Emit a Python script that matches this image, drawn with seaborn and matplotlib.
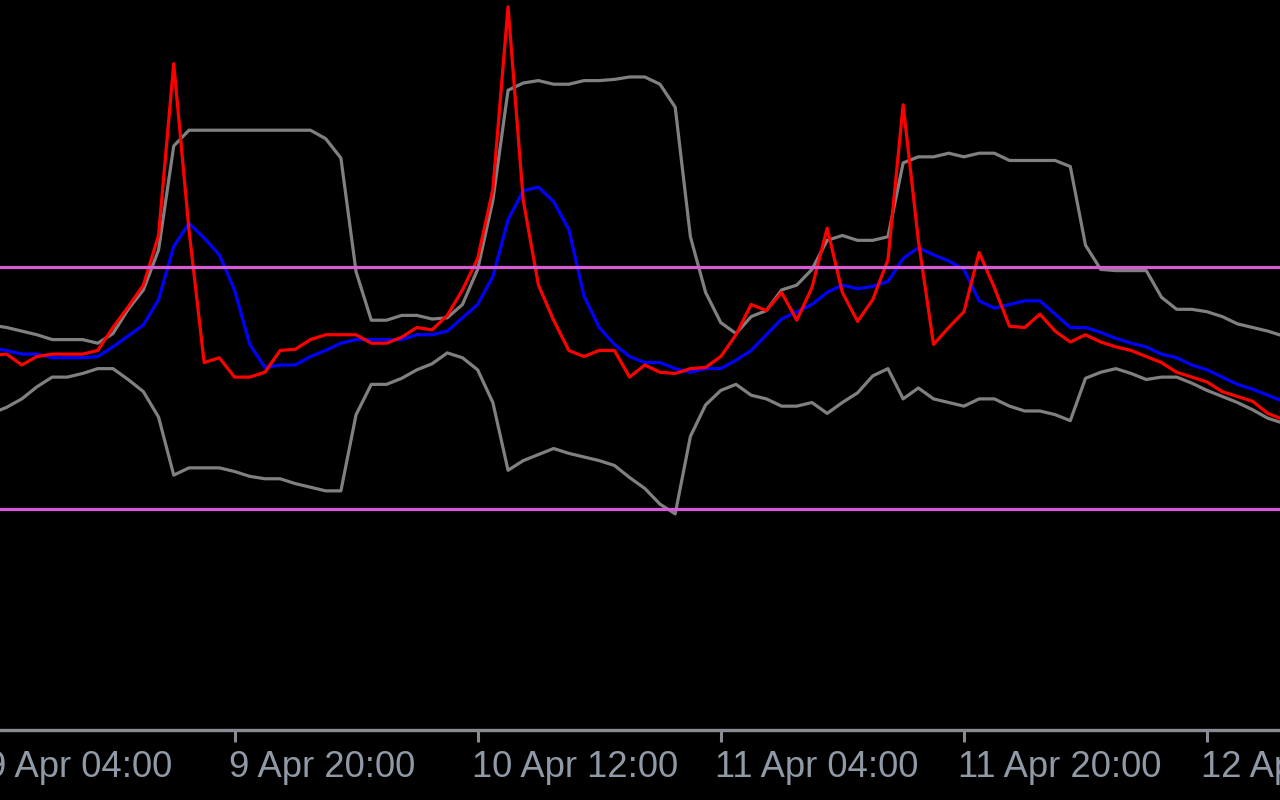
import matplotlib
matplotlib.use("Agg")
import matplotlib.pyplot as plt
import matplotlib.dates as mdates
import pandas as pd
import seaborn as sns

# hourly bars, 9 Apr 04:00 onwards
start = "2024-04-09 04:00"

main_line = [27, 28, 19, 26, 28, 28, 28, 31, 50, 67,
             85, 126, 268, 131, 21, 25, 9, 9, 13, 31,
             32, 40, 44, 44, 44, 37, 37, 42, 50, 48,
             60, 81, 107, 164, 315, 155, 85, 56, 31, 26,
             31, 31, 9, 19, 13, 12, 16, 17, 26, 44,
             69, 64, 79, 56, 83, 132, 79, 55, 73, 106,
             234, 122, 36, 50, 63, 112, 83, 51, 50, 61,
             47, 38, 44, 38, 34, 31, 26, 21, 13, 9,
             5, -3, -7, -11, -21, -26]

signal_line = [33, 31, 28, 28, 25, 25, 25, 26, 34, 43,
               52, 73, 117, 136, 124, 110, 81, 36, 17, 19,
               19, 26, 31, 37, 40, 40, 40, 40, 44, 44,
               47, 58, 69, 92, 139, 163, 166, 154, 131, 76,
               50, 36, 26, 21, 21, 16, 13, 16, 16, 23,
               31, 44, 57, 63, 69, 79, 85, 82, 84, 88,
               107, 116, 110, 105, 98, 72, 66, 69, 72, 72,
               61, 50, 50, 46, 41, 37, 34, 28, 25, 19,
               15, 9, 3, -1, -6, -11]

upper_band = [52, 50, 47, 44, 40, 40, 40, 37, 45, 65,
              81, 114, 200, 213, 213, 213, 213, 213, 213, 213,
              213, 213, 206, 190, 96, 56, 56, 60, 60, 57,
              58, 69, 98, 155, 246, 252, 254, 251, 251, 254,
              254, 255, 257, 257, 251, 232, 125, 79, 54, 45,
              59, 64, 81, 85, 98, 122, 126, 122, 122, 125,
              186, 191, 191, 194, 191, 194, 194, 188, 188, 188,
              188, 183, 118, 98, 97, 97, 97, 75, 65, 65,
              63, 59, 53, 50, 47, 43]

lower_band = [-21, -16, -9, 1, 9, 9, 12, 16, 16, 7,
              -3, -24, -72, -66, -66, -66, -69, -73, -75, -75,
              -79, -82, -85, -85, -22, 3, 3, 8, 15, 20,
              29, 25, 15, -12, -68, -60, -55, -50, -54, -57,
              -60, -64, -74, -83, -96, -104, -40, -14, -2, 3,
              -6, -9, -15, -15, -12, -21, -12, -4, 10, 16,
              -9, 0, -9, -12, -15, -9, -9, -15, -19, -19,
              -22, -27, 8, 13, 16, 12, 7, 9, 9, 4,
              -2, -7, -12, -18, -25, -29]

levels = [100, -100]

tick_times = ["2024-04-09 04:00", "2024-04-09 20:00", "2024-04-10 12:00",
              "2024-04-11 04:00", "2024-04-11 20:00", "2024-04-12 12:00"]
tick_labels = ["9 Apr 04:00", "9 Apr 20:00", "10 Apr 12:00",
               "11 Apr 04:00", "11 Apr 20:00", "12 Apr 12:00"]

times = pd.date_range(start, periods=len(main_line), freq="h")
df = pd.DataFrame({"time": times, "main": main_line, "signal": signal_line,
                   "upper": upper_band, "lower": lower_band})

sns.set_style("dark", {"axes.facecolor": "black", "figure.facecolor": "black"})
plt.rcParams["font.family"] = ["Liberation Sans", "DejaVu Sans"]

fig = plt.figure(figsize=(12.8, 8), dpi=100)
ax = fig.add_axes([0, 0.0875, 1, 0.9125])

# bands first, then signal and main, levels on top
for col, color in [("upper", "#808080"), ("lower", "#808080"),
                   ("signal", "#0000ff"), ("main", "#ff0000")]:
    sns.lineplot(data=df, x="time", y=col, ax=ax, color=color, lw=2.3)
for lv in levels:
    ax.axhline(lv, color="#d65ad6", lw=2.3, zorder=3)

ax.set_xlim(pd.Timestamp("2024-04-09 04:34"), pd.Timestamp("2024-04-12 16:48"))
ax.set_ylim(-282.6, 320.6)
ax.set_xlabel("")
ax.set_ylabel("")
ax.grid(False)
ax.set_yticks([])

for side in ["top", "left", "right"]:
    ax.spines[side].set_visible(False)
ax.spines["bottom"].set_color("#898b93")
ax.spines["bottom"].set_linewidth(2.4)

ticks = [pd.Timestamp(t) for t in tick_times]
ax.set_xticks(ticks[1:])
ax.tick_params(axis="x", bottom=True, direction="out", length=8.6, width=2.2,
               color="#898b93", labelbottom=False)

# labels sit just right of their tick; first tick is off the left edge
for t, lab in zip(ticks, tick_labels):
    ax.annotate(lab, xy=(mdates.date2num(t), 0), xycoords=("data", "axes fraction"),
                xytext=(-4.2, -33.8), textcoords="offset points",
                ha="left", va="baseline", fontsize=26.2, color="#8f9aa6",
                annotation_clip=False)

fig.savefig("out.png", dpi=100, facecolor="black")
